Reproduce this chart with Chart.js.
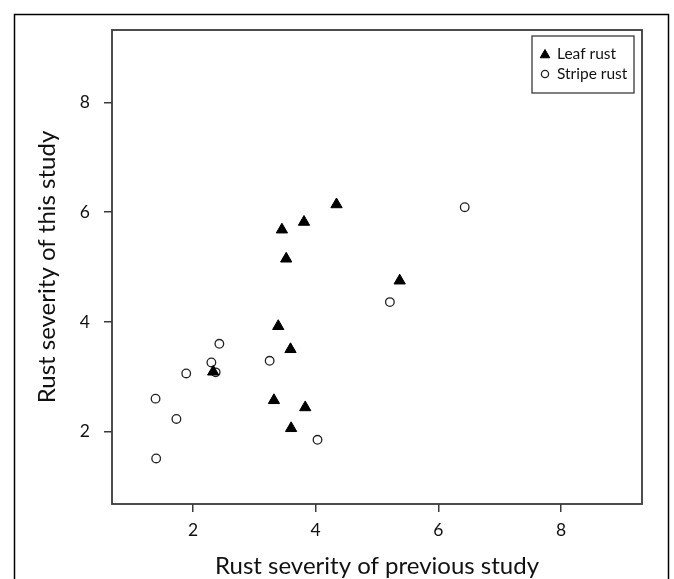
<!DOCTYPE html>
<html>
<head>
<meta charset="utf-8">
<script src="https://cdn.jsdelivr.net/npm/chart.js@4/dist/chart.umd.min.js"></script>
<style>
  body { margin: 0; background: #fff; }
  canvas { display: block; }
</style>
</head>
<body>
<canvas id="rustChart" width="674" height="579"></canvas>
<script>
// valores
const leafX = [4.34, 3.81, 3.45, 3.52, 5.37, 3.39, 3.59, 2.33, 3.32, 3.83, 3.60];
const leafY = [6.14, 5.82, 5.68, 5.15, 4.75, 3.92, 3.50, 3.09, 2.57, 2.44, 2.06];
const stripeX = [6.43, 5.21, 2.43, 2.30, 3.25, 1.89, 2.37, 1.39, 1.73, 4.03, 1.40];
const stripeY = [6.09, 4.36, 3.60, 3.26, 3.29, 3.06, 3.08, 2.60, 2.23, 1.85, 1.51];
const xTicks = [2, 4, 6, 8];
const yTicks = [2, 4, 6, 8];
const seriesNames = ['Leaf rust', 'Stripe rust'];
const xTitle = 'Rust severity of previous study';
const yTitle = 'Rust severity of this study';

const fonte = 'Lato, "Open Sans", sans-serif';

const ctx = document.getElementById('rustChart').getContext('2d');

const toPoints = (xs, ys) => xs.map((x, i) => ({ x: x, y: ys[i] }));

// moldura externa + caixa do gráfico
const molduraPlugin = {
    id: 'moldura',
    beforeDraw(chart) {
        const c = chart.ctx;
        c.save();
        c.fillStyle = '#fff';
        c.fillRect(0, 0, chart.width, chart.height);
        c.strokeStyle = '#000';
        c.lineWidth = 1.5;
        c.beginPath();
        c.moveTo(14.5, chart.height + 5);
        c.lineTo(14.5, 14.5);
        c.lineTo(668.5, 14.5);
        c.lineTo(668.5, chart.height + 5);
        c.stroke();
        c.restore();
    },
    afterDatasetsDraw(chart) {
        const a = chart.chartArea;
        const c = chart.ctx;
        c.save();
        c.strokeStyle = '#3a3a3a';
        c.lineWidth = 1.8;
        c.strokeRect(a.left, a.top, a.right - a.left, a.bottom - a.top);
        c.restore();
    }
};

// legenda dentro da caixa, canto superior direito
const legendaPlugin = {
    id: 'legendaCaixa',
    afterDraw(chart) {
        const c = chart.ctx;
        const bx = 532, by = 36, bw = 102, bh = 57;
        c.save();
        c.strokeStyle = '#3a3a3a';
        c.lineWidth = 1.3;
        c.strokeRect(bx, by, bw, bh);
        c.font = '15.5px ' + fonte;
        c.textBaseline = 'middle';
        chart.data.datasets.forEach((ds, i) => {
            const cy = by + 18 + i * 20;
            c.fillStyle = ds.backgroundColor;
            c.strokeStyle = ds.borderColor;
            c.lineWidth = ds.borderWidth;
            Chart.helpers.drawPoint(c, {
                pointStyle: ds.pointStyle,
                radius: ds.pointStyle === 'triangle' ? 5.5 : 3.6,
                borderWidth: ds.borderWidth
            }, 545, cy + (ds.pointStyle === 'triangle' ? 1 : 0));
            c.fillStyle = '#111';
            c.fillText(ds.label, 557, cy);
        });
        c.restore();
    }
};

const eixoComum = {
    type: 'linear',
    min: 0.68,
    max: 9.32,
    grid: {
        display: true,
        drawOnChartArea: false,
        drawTicks: true,
        tickLength: 8,
        color: '#3a3a3a',
        lineWidth: 1.5
    },
    border: { display: false },
    ticks: {
        color: '#111',
        font: { family: fonte, size: 17.5 }
    }
};

new Chart(ctx, {
    type: 'scatter',
    data: {
        datasets: [
            {
                label: seriesNames[0],
                data: toPoints(leafX, leafY),
                pointStyle: 'triangle',
                pointRadius: 6.5,
                backgroundColor: '#000',
                borderColor: '#000',
                borderWidth: 1
            },
            {
                label: seriesNames[1],
                data: toPoints(stripeX, stripeY),
                pointStyle: 'circle',
                pointRadius: 4.3,
                backgroundColor: 'rgba(0,0,0,0)',
                borderColor: '#222',
                borderWidth: 1.3
            }
        ]
    },
    options: {
        responsive: false,
        animation: false,
        devicePixelRatio: 1,
        layout: { padding: { left: 0, top: 30, right: 32, bottom: 0 } },
        plugins: {
            legend: { display: false },
            tooltip: { enabled: false }
        },
        scales: {
            x: {
                ...eixoComum,
                position: 'bottom',
                afterBuildTicks: s => { s.ticks = xTicks.map(v => ({ value: v })); },
                afterFit: s => { s.height = 75; },
                ticks: { ...eixoComum.ticks, padding: 8, maxRotation: 0 },
                title: {
                    display: true,
                    text: xTitle,
                    color: '#111',
                    font: { family: fonte, size: 24, lineHeight: 1 },
                    padding: { top: 0, bottom: 1 }
                }
            },
            y: {
                ...eixoComum,
                position: 'left',
                afterBuildTicks: s => { s.ticks = yTicks.map(v => ({ value: v })); },
                afterFit: s => { s.width = 112; },
                ticks: { ...eixoComum.ticks, padding: 14 },
                title: {
                    display: true,
                    text: yTitle,
                    color: '#111',
                    font: { family: fonte, size: 24, lineHeight: 1 },
                    padding: { top: 35, bottom: 0 }
                }
            }
        }
    },
    plugins: [molduraPlugin, legendaPlugin]
});
</script>
</body>
</html>
